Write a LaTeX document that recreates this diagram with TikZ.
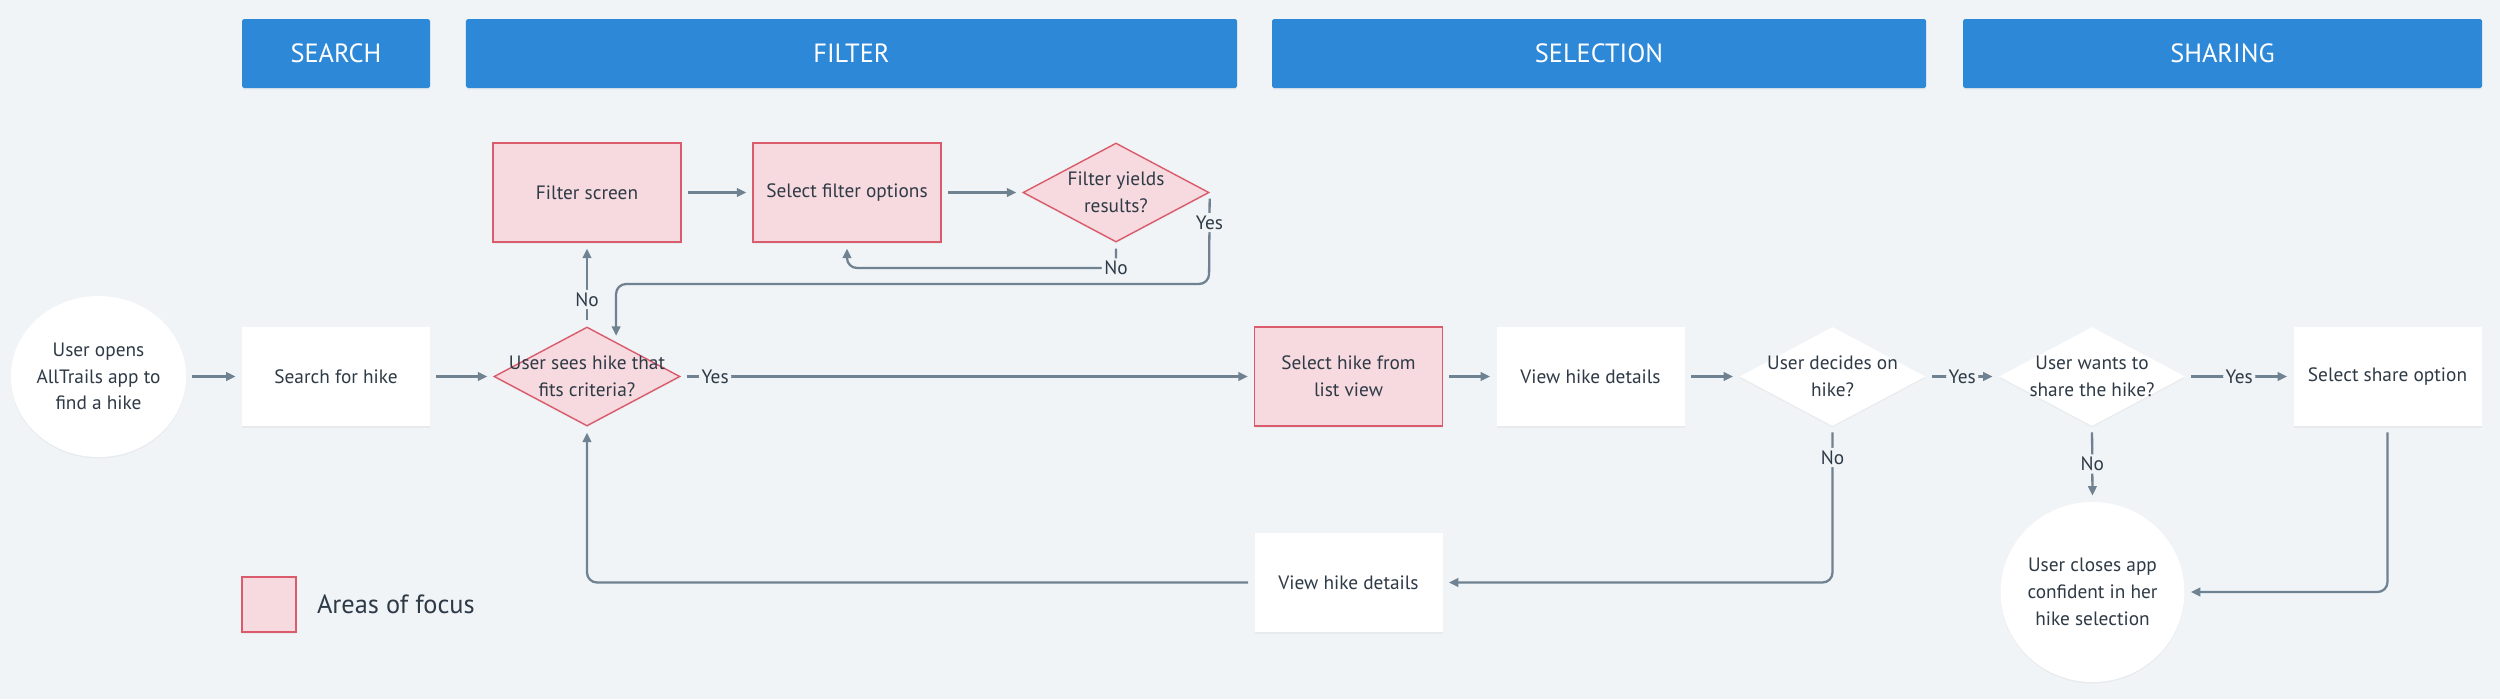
\documentclass[tikz,border=0pt]{standalone}
\usepackage{fontspec}
\setmainfont{PT Sans}
\definecolor{atBg}{HTML}{F0F4F7}
\definecolor{atBlue}{HTML}{2D88D8}
\definecolor{atPink}{HTML}{F7DADF}
\definecolor{atRed}{HTML}{DA5B6B}
\definecolor{atLine}{HTML}{6F8291}
\definecolor{atText}{HTML}{2E3A46}
\usetikzlibrary{positioning,arrows.meta,shapes.geometric,shadows}

\tikzset{
  softshadow/.style={drop shadow={shadow xshift=0pt, shadow yshift=-0.3mm, opacity=0.07}},
  phase/.style={fill=atBlue, text=white, minimum height=13.8mm, inner sep=0pt,
    rounded corners=1pt, softshadow, font=\fontsize{15}{18}\selectfont},
  stepbox/.style={fill=white, minimum width=37.6mm, minimum height=19.8mm, inner sep=0pt,
    align=center, text=atText, softshadow, font=\fontsize{11}{15.2}\selectfont},
  focus/.style={stepbox, fill=atPink, draw=atRed, line width=0.8pt},
  decision/.style={diamond, fill=white, minimum width=37.2mm, minimum height=19.8mm,
    inner sep=0pt, softshadow},
  focusdecision/.style={decision, fill=atPink, draw=atRed, line width=0.8pt},
  asktext/.style={align=center, text=atText, inner sep=0pt, font=\fontsize{11}{15.2}\selectfont},
  terminal/.style={ellipse, fill=white, minimum width=32.2mm, minimum height=32.2mm,
    inner sep=0pt, align=center, text=atText, softshadow, font=\fontsize{11}{15.2}\selectfont},
  flow/.style={draw=atLine, line width=1.3pt, rounded corners=2mm,
    -{Triangle[length=1.9mm,width=1.7mm]}, shorten >=1.2mm, shorten <=1.2mm},
  answer/.style={fill=atBg, text=atText, inner sep=1.5pt, font=\fontsize{11}{13}\selectfont}
}

\begin{document}
\begin{tikzpicture}[x=0.2mm, y=-0.2mm]
  \fill[atBg] (0,0) rectangle (2500,699);

  % phase headers
  \node[phase, minimum width=37.6mm] (hsearch) at (336,53.5) {SEARCH};
  \node[phase, minimum width=154.2mm] (hfilter) at (851.5,53.5) {FILTER};
  \node[phase, minimum width=130.8mm] (hselect) at (1599,53.5) {SELECTION};
  \node[phase, minimum width=103.8mm] (hshare) at (2222.5,53.5) {SHARING};

  % main row
  \node[terminal] (opens) at (98.5,376.5) {User opens\\AllTrails app to\\find a hike};
  \node[stepbox] (search) at (336,376.5) {Search for hike};
  \node[focusdecision] (sees) at (587,376.5) {};
  \node[asktext] (seesq) at (sees) {User sees hike that\\fits criteria?};
  \node[focus] (listsel) at (1348.5,376.5) {Select hike from\\list view};
  \node[stepbox] (vtop) at (1590.5,376.5) {View hike details};
  \node[decision] (decides) at (1832.5,376.5) {};
  \node[asktext] (decidesq) at (decides) {User decides on\\hike?};
  \node[decision] (wants) at (2092,376.5) {};
  \node[asktext] (wantsq) at (wants) {User wants to\\share the hike?};
  \node[stepbox] (share) at (2387.5,376.5) {Select share option};

  % filter loop
  \node[focus] (fscreen) at (587,192.5) {Filter screen};
  \node[focus] (fopts) at (847,192.5) {Select filter options};
  \node[focusdecision] (yields) at (1116,192.5) {};
  \node[asktext] (yieldsq) at (yields) {Filter yields\\results?};

  % lower row
  \node[stepbox] (vbot) at (1348.5,582.5) {View hike details};
  \node[terminal, minimum height=36mm] (closes) at (2092.5,592) {User closes app\\confident in her\\hike selection};

  % legend
  \node[focus, minimum width=10.8mm, minimum height=11mm] (legendkey) at (269,604.5) {};
  \node[right=4mm of legendkey, inner sep=0pt, text=atText, font=\fontsize{15}{18}\selectfont] (legendtext) {Areas of focus};

  \coordinate (yieldsno) at (1116,268);
  \coordinate (yieldsyes) at (1209,284);

  % connectors
  \draw[flow] (opens) -- (search);
  \draw[flow] (search) -- (sees);
  \draw[flow] (sees.east) -- node[answer, pos=0.06]{Yes} (listsel.west);
  \draw[flow] (sees.north) -- node[answer, pos=0.32]{No} (fscreen.south);
  \draw[flow] (fscreen) -- (fopts);
  \draw[flow] (fopts) -- (yields);
  \draw[flow] (yields.south) -- (yieldsno) node[answer]{No} -| (fopts.south);
  \draw[flow] (yields.east) -- node[answer, pos=0.33]{Yes} (yieldsyes) -| (sees.50);
  \draw[flow] (listsel) -- (vtop);
  \draw[flow] (vtop) -- (decides);
  \draw[flow] (decides.east) -- node[answer]{Yes} (wants.west);
  \draw[flow] (wants.east) -- node[answer]{Yes} (share.west);
  \draw[flow] (wants.south) -- node[answer]{No} (closes.north);
  \draw[flow] (decides.south) |- node[answer, pos=0.1]{No} (vbot.east);
  \draw[flow] (vbot.west) -| (sees.south);
  \draw[flow] (share.south) |- (closes.east);
\end{tikzpicture}
\end{document}
